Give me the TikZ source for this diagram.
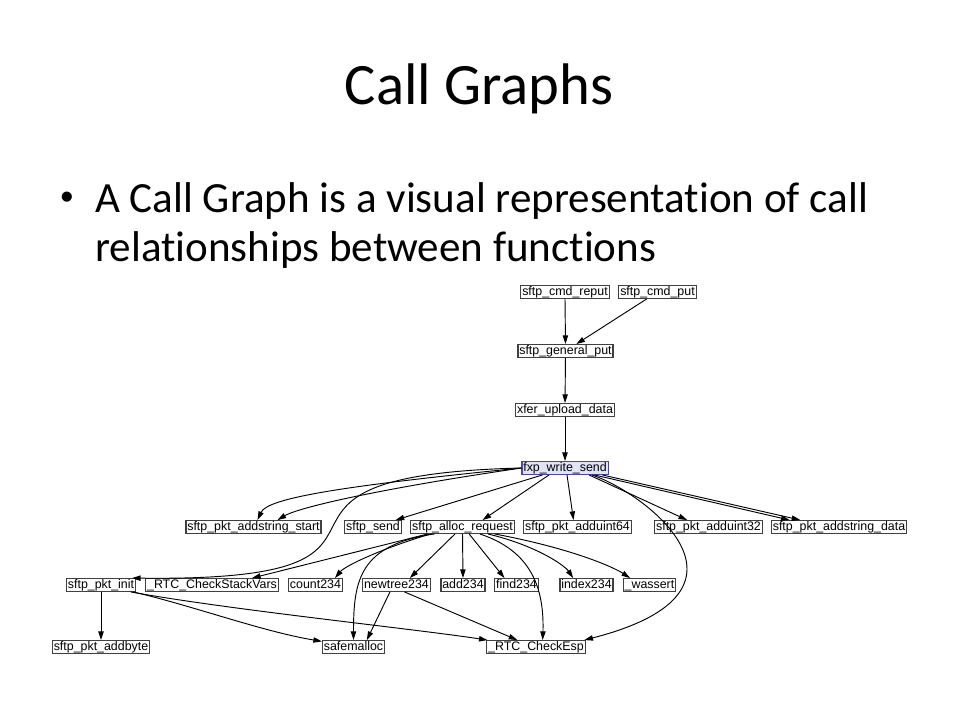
\documentclass[tikz,border=0pt]{standalone}
\usepackage{fontspec}
\setmainfont{Carlito}[Ligatures=NoCommon]
\newfontfamily\graphfont{Liberation Sans}
\usetikzlibrary{arrows.meta}
\definecolor{hotfill}{RGB}{226,226,246}
\definecolor{hotdraw}{RGB}{72,72,160}
\tikzset{
  fn/.style={draw=black!75, fill=white, line width=0.8pt, inner xsep=1pt, inner ysep=0.5pt,
    text height=6.7pt, text depth=1.9pt, font=\graphfont\fontsize{9.3}{10}\selectfont},
  hot/.style={fn, fill=hotfill, draw=hotdraw},
  call/.style={line width=0.7pt, -{Triangle[length=6.5pt,width=4pt]}}
}
\begin{document}
\begin{tikzpicture}[x=0.75pt,y=-0.75pt]
\useasboundingbox (0,0) rectangle (960,720);
\node[anchor=base, font=\fontsize{44}{52}\selectfont] (title) at (479,105) {Call Graphs};
\node[anchor=base, inner sep=0pt, font=\graphfont\fontsize{28}{32}\selectfont] (bullet) at (67,210) {•};
\node[anchor=base west, inner sep=0pt, font=\fontsize{32.3}{38}\selectfont] (lineA) at (95,213) {A Call Graph is a visual representation of call};
\node[anchor=base west, inner sep=0pt, font=\fontsize{32.3}{38}\selectfont] (lineB) at (95,262) {relationships between functions};

\node[fn] (reput) at (565,292) {sftp\_cmd\_reput};
\node[fn] (cmdput) at (657.5,292) {sftp\_cmd\_put};
\node[fn] (genput) at (565.5,351) {sftp\_general\_put};
\node[fn] (xfer) at (565,410) {xfer\_upload\_data};
\node[hot] (fxp) at (565,468) {fxp\_write\_send};

\node[fn] (addstart) at (253.5,527) {sftp\_pkt\_addstring\_start};
\node[fn] (send) at (373,527) {sftp\_send};
\node[fn] (alloc) at (462.5,527) {sftp\_alloc\_request};
\node[fn] (add64) at (577.5,527) {sftp\_pkt\_adduint64};
\node[fn] (add32) at (708.5,527) {sftp\_pkt\_adduint32};
\node[fn] (adddata) at (839,527) {sftp\_pkt\_addstring\_data};

\node[fn] (pktinit) at (101,585) {sftp\_pkt\_init};
\node[fn] (stackvars) at (212,585) {\_RTC\_CheckStackVars};
\node[fn] (count) at (315.5,585) {count234};
\node[fn] (newtree) at (396.5,585) {newtree234};
\node[fn] (add) at (463,585) {add234};
\node[fn] (find) at (516.5,585) {find234};
\node[fn] (index) at (586.5,585) {index234};
\node[fn] (wassert) at (649.5,585) {\_wassert};

\node[fn] (addbyte) at (101,647) {sftp\_pkt\_addbyte};
\node[fn] (safemalloc) at (353.5,647) {safemalloc};
\node[fn] (checkesp) at (536,647) {\_RTC\_CheckEsp};

\draw[call] (reput.south) -- (genput.north);
\draw[call] (cmdput) -- (genput);
\draw[call] (genput) -- (xfer);
\draw[call] (xfer) -- (fxp);

\draw[call] (fxp.west) .. controls +(-180,18) and +(10,-22) .. ([xshift=3pt]addstart.north);
\draw[call] (fxp.west) .. controls +(-150,22) and +(20,-12) .. ([xshift=18pt]addstart.north);
\draw[call] (fxp.west) .. controls +(-323,8) and +(335,4) .. ([xshift=-3pt]pktinit.north east);
\draw[call] (fxp) -- (send);
\draw[call] ([xshift=-12pt]fxp.south) -- ([xshift=15pt]alloc.north);
\draw[call] ([xshift=1.5pt]fxp.south) -- ([xshift=-3pt]add64.north);
\draw[call] ([xshift=18pt]fxp.south) -- ([xshift=-16pt]add32.north);
\draw[call] ([xshift=22pt]fxp.south) -- ([xshift=-37pt]adddata.north);
\draw[call] ([xshift=28pt]fxp.south) -- ([xshift=-29pt]adddata.north);
\draw[call] ([xshift=20pt]fxp.south) .. controls +(48,15) and +(195,-50) .. ([xshift=-1pt]checkesp.north east);

\draw[call] ([xshift=-26pt]alloc.south) -- ([xshift=30pt]stackvars.north);
\draw[call] ([xshift=-24pt]alloc.south) .. controls +(-50,15) and +(10,-12) .. ([xshift=14.6pt]count.north);
\draw[call] ([xshift=-21pt]alloc.south) .. controls +(-75,11) and +(0,-60) .. (safemalloc.north);
\draw[call] ([xshift=-5.6pt]alloc.south) -- ([xshift=10pt]newtree.north);
\draw[call] (alloc.south) -- (add.north);
\draw[call] ([xshift=5pt]alloc.south) -- ([xshift=-9pt]find.north);
\draw[call] ([xshift=13pt]alloc.south) .. controls +(45,15) and +(2,-60) .. ([xshift=5pt]checkesp.north);
\draw[call] ([xshift=19pt]alloc.south) .. controls +(50,12) and +(-8,-12) .. ([xshift=-10pt]index.north);
\draw[call] ([xshift=24pt]alloc.south) .. controls +(80,15) and +(-15,-10) .. ([xshift=-14.6pt]wassert.north);

\draw[call] (pktinit) -- (addbyte);
\draw[call] ([xshift=-2pt]pktinit.south east) .. controls +(60,14) and +(-60,-10) .. ([yshift=-1pt]safemalloc.north west);
\draw[call] ([xshift=-4pt]pktinit.south east) .. controls +(100,18) and +(-80,-12) .. ([xshift=1pt]checkesp.north west);
\draw[call] ([xshift=-4.9pt]newtree.south) -- ([xshift=10pt]safemalloc.north);
\draw[call] ([xshift=6pt]newtree.south) -- ([xshift=-14pt]checkesp.north);
\end{tikzpicture}
\end{document}
